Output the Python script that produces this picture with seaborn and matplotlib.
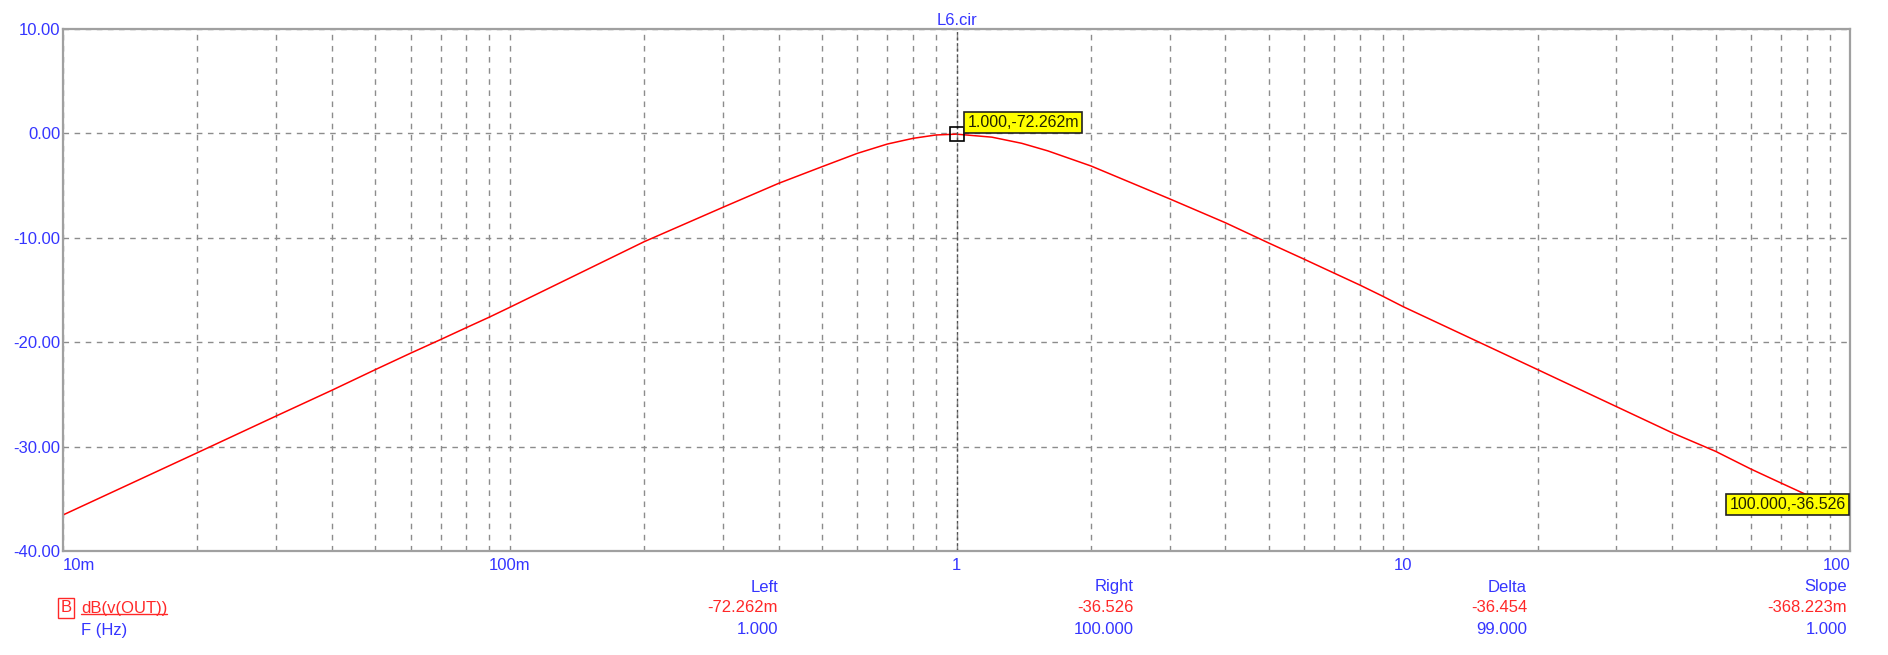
import matplotlib
matplotlib.use("Agg")
import matplotlib.pyplot as plt
import matplotlib.ticker as mticker
from matplotlib.lines import Line2D
import numpy as np
import pandas as pd
import seaborn as sns

# values (frequency in Hz, magnitude in dB)
freq = [0.01, 0.02, 0.03, 0.04, 0.05, 0.06, 0.07, 0.08, 0.09,
        0.1, 0.2, 0.3, 0.4, 0.5, 0.6, 0.7, 0.8, 0.9,
        1.0, 1.2, 1.4, 1.6, 2, 3, 4, 5, 6, 7, 8, 9,
        10, 20, 30, 40, 50, 60, 70, 80, 90, 100]
db = [-36.55, -30.58, -27.07, -24.6, -22.63, -21.05, -19.75, -18.6, -17.6,
      -16.66, -10.37, -7.08, -4.78, -3.19, -1.91, -1.02, -0.47, -0.15,
      -0.072, -0.36, -0.95, -1.67, -3.12, -6.27, -8.56, -10.5, -12.05, -13.38, -14.53, -15.6,
      -16.6, -22.63, -26.17, -28.68, -30.45, -32.15, -33.48, -34.62, -35.62, -36.526]

x_ticks = [0.01, 0.1, 1, 10, 100]
x_labels = ["10m", "100m", "1", "10", "100"]
y_ticks = [10, 0, -10, -20, -30, -40]
y_labels = ["10.00", "0.00", "-10.00", "-20.00", "-30.00", "-40.00"]

cursor_left = (1.0, -0.072, "1.000,-72.262m")
cursor_right = (100.0, -36.526, "100.000,-36.526")

table_cols = ["Left", "Right", "Delta", "Slope"]
table_y = ["-72.262m", "-36.526", "-36.454", "-368.223m"]
table_x = ["1.000", "100.000", "99.000", "1.000"]

BLUE = "#3535FF"
RED = "#FF2828"
GRID = "#8C8C8C"
FS = 12

sns.set_style("white")
plt.rcParams["font.family"] = ["Liberation Sans", "DejaVu Sans"]
plt.rcParams["font.size"] = FS

W, H = 1888, 655
fig = plt.figure(figsize=(W / 100, H / 100), dpi=100)
ax = fig.add_axes([63 / W, 1 - 551 / H, (1850 - 63) / W, (551 - 29) / H])

df = pd.DataFrame({"freq": freq, "db": db})
sns.lineplot(data=df, x="freq", y="db", ax=ax, color="#FF0000", linewidth=1.1)

ax.set_xscale("log")
ax.set_xlim(0.01, 100)
ax.set_ylim(-40, 10)
ax.set_xticks(x_ticks)
ax.set_xticklabels(x_labels)
ax.xaxis.set_minor_locator(mticker.LogLocator(base=10, subs=np.arange(2, 10)))
ax.xaxis.set_minor_formatter(mticker.NullFormatter())
ax.set_yticks(y_ticks)
ax.set_yticklabels(y_labels)
ax.set_xlabel("")
ax.set_ylabel("")

ax.tick_params(axis="both", which="both", length=0, colors=BLUE, labelsize=FS)
ax.tick_params(axis="x", pad=5)
ax.tick_params(axis="y", pad=2)
labels = ax.get_xticklabels()
labels[0].set_ha("left")
labels[-1].set_ha("right")

ax.grid(True, which="both", axis="x", color=GRID, linestyle=(0, (4, 4)), linewidth=1)
ax.grid(True, which="major", axis="y", color=GRID, linestyle=(0, (4, 4)), linewidth=1)
for sp in ax.spines.values():
    sp.set_color("#A0A0A0")
    sp.set_linewidth(1.6)

ax.set_title("L6.cir", color=BLUE, fontsize=FS, pad=3)

# cursor at 1 Hz
ax.axvline(1.0, color="#505050", linestyle=(0, (2, 2)), linewidth=1)
ax.plot([cursor_left[0]], [cursor_left[1]], marker="s", markersize=10.5,
        markerfacecolor="none", markeredgecolor="black", markeredgewidth=1.2)

box = dict(boxstyle="square,pad=0.2", facecolor="#FFFF00", edgecolor="#222222", linewidth=1.2)
ax.annotate(cursor_left[2], xy=(cursor_left[0], cursor_left[1]), xytext=(8, 3),
            textcoords="offset points", ha="left", va="bottom", fontsize=11.5,
            color="#222200", bbox=box)
ax.annotate(cursor_right[2], xy=(cursor_right[0], cursor_right[1]), xytext=(-3, 7.5),
            textcoords="offset points", ha="right", va="center", fontsize=11.5,
            color="#222200", bbox=box)

# readout table under the plot
col_right = [778, 1134, 1527, 1847]
for name, vy, vx, xr in zip(table_cols, table_y, table_x, col_right):
    fig.text(xr / W, 1 - 587 / H, name, ha="right", va="center", color=BLUE, fontsize=FS)
    fig.text(xr / W, 1 - 608 / H, vy, ha="right", va="center", color=RED, fontsize=FS)
    fig.text(xr / W, 1 - 630 / H, vx, ha="right", va="center", color=BLUE, fontsize=FS)

fig.text(66 / W, 1 - 608 / H, "B", ha="center", va="center", color=RED, fontsize=FS,
         bbox=dict(boxstyle="square,pad=0.15", facecolor="white", edgecolor=RED, linewidth=1))
trace = fig.text(81 / W, 1 - 608 / H, "dB(v(OUT))", ha="left", va="center", color=RED, fontsize=FS)
fig.text(81 / W, 1 - 630 / H, "F (Hz)", ha="left", va="center", color=BLUE, fontsize=FS)

fig.canvas.draw()
bb = trace.get_window_extent().transformed(fig.transFigure.inverted())
fig.add_artist(Line2D([bb.x0, bb.x1], [bb.y0 + 0.002, bb.y0 + 0.002],
                      transform=fig.transFigure, color=RED, linewidth=1))

fig.savefig("out.png", dpi=100, facecolor="white")
